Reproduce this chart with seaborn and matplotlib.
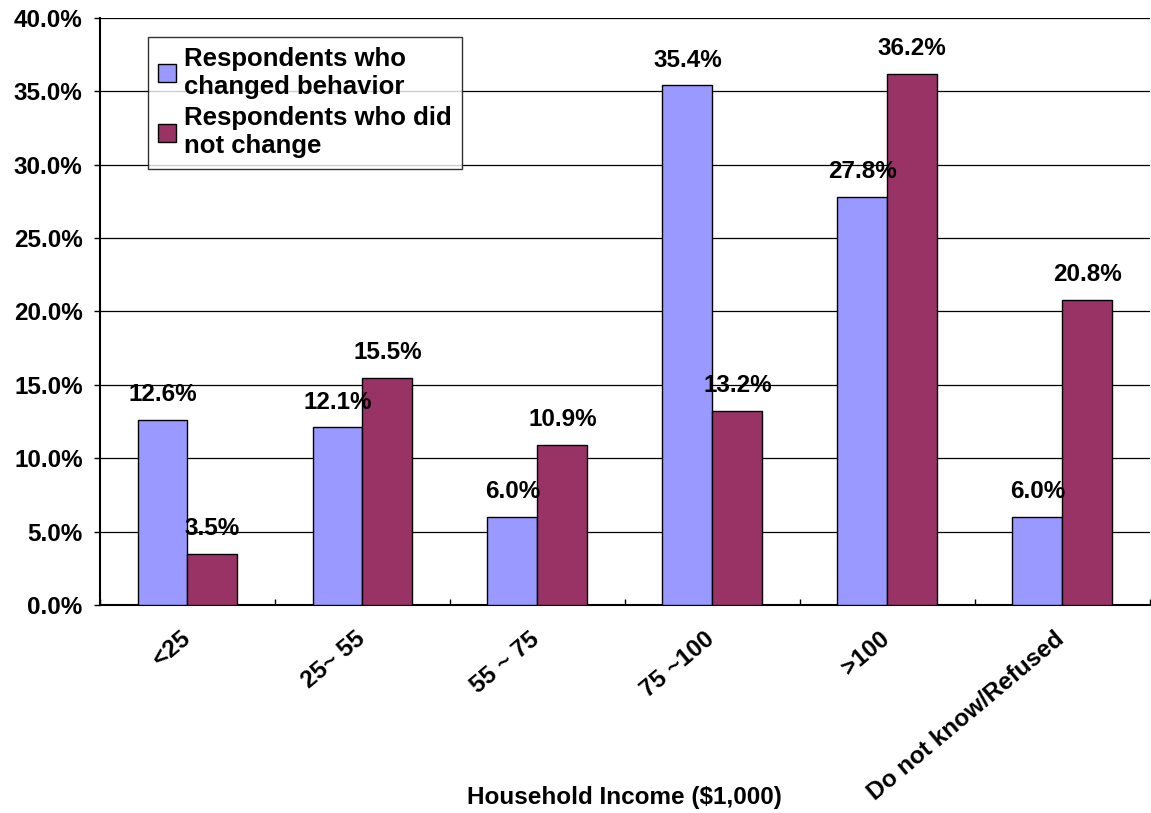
import matplotlib
matplotlib.use("Agg")
import matplotlib.pyplot as plt
import matplotlib.transforms as mtransforms
import seaborn as sns
import pandas as pd

categories = ["<25", "25~ 55", "55 ~ 75", "75 ~100", ">100", "Do not know/Refused"]
changed = [12.6, 12.1, 6.0, 35.4, 27.8, 6.0]
not_changed = [3.5, 15.5, 10.9, 13.2, 36.2, 20.8]
series = ["Respondents who\nchanged behavior", "Respondents who did\nnot change"]
colors = ["#9999FF", "#993366"]

df = pd.DataFrame({
    "income": categories * 2,
    "value": changed + not_changed,
    "group": [series[0]] * len(categories) + [series[1]] * len(categories),
})

sns.set_style("white")
plt.rcParams["font.family"] = ["Liberation Sans", "DejaVu Sans"]
plt.rcParams["font.weight"] = "bold"
plt.rcParams["text.color"] = "black"
plt.rcParams["axes.labelcolor"] = "black"
plt.rcParams["xtick.color"] = "black"
plt.rcParams["ytick.color"] = "black"

FS = 17.5

fig = plt.figure(figsize=(11.51, 8.13), dpi=100)
ax = fig.add_axes([0.0869, 0.2558, 0.912, 0.7222])

sns.barplot(data=df, x="income", y="value", hue="group", palette=colors,
            width=0.571, edgecolor="black", linewidth=1.0, saturation=1,
            ax=ax, zorder=3)

# value labels above bars
for cont in ax.containers:
    ax.bar_label(cont, labels=[f"{v:.1f}%" for v in cont.datavalues],
                 padding=10, fontsize=FS, fontweight="bold", color="black")

ax.set_ylim(0, 40)
ax.set_xlim(-0.5, len(categories) - 0.5)
ax.set_yticks(range(0, 41, 5))
ax.set_yticklabels([f"{t:.1f}%" for t in range(0, 41, 5)], fontsize=FS, fontweight="bold")
ax.yaxis.grid(True, color="black", linewidth=0.9, zorder=0)
ax.tick_params(axis="y", direction="out", length=4.5, width=1, color="black", left=True, pad=8)

ax.set_xticks(range(len(categories)))
ax.set_xticklabels(categories, rotation=40, ha="right", rotation_mode="anchor",
                   fontsize=17.5, fontweight="bold")
ax.tick_params(axis="x", length=0, pad=16)
shift = mtransforms.ScaledTranslation(-8 / 100, 0, fig.dpi_scale_trans)
for lab in ax.get_xticklabels():
    lab.set_transform(lab.get_transform() + shift)
ax.set_xticks([i + 0.5 for i in range(-1, len(categories))], minor=True)
ax.tick_params(axis="x", which="minor", direction="in", length=4, width=1, color="black", bottom=True)

ax.set_xlabel("Household Income ($1,000)", fontsize=FS, fontweight="bold", va="center")
ax.xaxis.set_label_coords(0.5, -0.327)
ax.set_ylabel("")

for side in ["left", "bottom"]:
    ax.spines[side].set_color("black")
    ax.spines[side].set_linewidth(1.5)
ax.spines["top"].set_visible(False)
ax.spines["right"].set_visible(False)

leg = ax.legend(loc="upper left", bbox_to_anchor=(0.0457, 0.968), frameon=True,
                fancybox=False, edgecolor="black",
                prop={"weight": "bold", "size": 18.5},
                handlelength=0.7, handleheight=0.7, handletextpad=0.3,
                borderpad=0.4, labelspacing=0.3, borderaxespad=0)
leg.get_frame().set_linewidth(1.0)
for t in leg.get_texts():
    t.set_color("black")

fig.savefig("out.png", dpi=100)
